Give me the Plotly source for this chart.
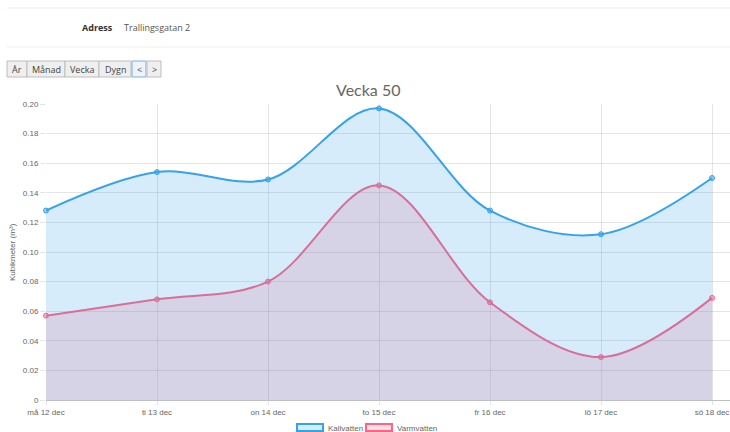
import plotly.graph_objects as go

# ---- data ----
categories = ["må 12 dec", "ti 13 dec", "on 14 dec", "to 15 dec", "fr 16 dec", "lö 17 dec", "sö 18 dec"]
kallvatten = [0.128, 0.154, 0.149, 0.197, 0.128, 0.112, 0.150]
varmvatten = [0.057, 0.068, 0.080, 0.145, 0.066, 0.029, 0.069]
ytick_vals = [0, 0.02, 0.04, 0.06, 0.08, 0.10, 0.12, 0.14, 0.16, 0.18, 0.20]
ytick_text = ["0", "0.02", "0.04", "0.06", "0.08", "0.10", "0.12", "0.14", "0.16", "0.18", "0.20"]
buttons = ["År", "Månad", "Vecka", "Dygn", "<", ">"]
series_names = ["Kallvatten", "Varmvatten"]

# ---- layout geometry (pixels) ----
W, H = 730, 432
L, R, T, B = 46, 0, 104, 32
PW = W - L - R
PH = H - T - B

def px(x):
    return (x - L) / PW

def py(y):
    return (H - B - y) / PH

BLUE = "#36a2eb"
BLUE_F = "rgba(54,162,235,0.2)"
PINK = "rgb(255,99,132)"
PINK_F = "rgba(255,99,132,0.2)"
GRID = "rgba(0,0,0,0.1)"
FONT = "Liberation Sans, Arial, sans-serif"

fig = go.Figure()
# Varmvatten drawn first (underneath), Kallvatten on top
fig.add_trace(go.Scatter(
    x=categories, y=varmvatten, name=series_names[1], mode="lines+markers",
    line=dict(color=PINK, width=2, shape="spline", smoothing=1.0),
    marker=dict(size=5, color="rgba(255,99,132,0.5)", line=dict(color=PINK, width=1)),
    fill="tozeroy", fillcolor=PINK_F, cliponaxis=False, showlegend=False,
))
fig.add_trace(go.Scatter(
    x=categories, y=kallvatten, name=series_names[0], mode="lines+markers",
    line=dict(color=BLUE, width=2, shape="spline", smoothing=1.0),
    marker=dict(size=5, color="rgba(54,162,235,0.5)", line=dict(color=BLUE, width=1)),
    fill="tozeroy", fillcolor=BLUE_F, cliponaxis=False, showlegend=False,
))

shapes = []
annotations = []

# header lines
for yy in (8, 47):
    shapes.append(dict(type="line", xref="paper", yref="paper", x0=px(7), x1=px(730),
                       y0=py(yy), y1=py(yy), line=dict(color="#eeeeee", width=1)))

annotations.append(dict(text="<b>Adress</b>", xref="paper", yref="paper", x=px(80), y=py(28),
                        xanchor="left", yanchor="middle", showarrow=False,
                        font=dict(family="Open Sans", size=9, color="#333")))
annotations.append(dict(text="Trallingsgatan 2", xref="paper", yref="paper", x=px(122), y=py(28),
                        xanchor="left", yanchor="middle", showarrow=False,
                        font=dict(family="Open Sans", size=9, color="#555")))

# buttons
btn_x = [(7, 27), (27, 65), (65, 99), (99, 131), (132, 146), (147, 161)]
for label, (x0, x1) in zip(buttons, btn_x):
    active = label == "<"
    shapes.append(dict(type="rect", xref="paper", yref="paper", x0=px(x0), x1=px(x1),
                       y0=py(77), y1=py(61),
                       fillcolor="#eef3f9" if active else "#efefef",
                       line=dict(color="#7aaee0" if active else "#bdbdbd", width=1)))
    annotations.append(dict(text=label, xref="paper", yref="paper", x=px((x0 + x1) / 2), y=py(69),
                            xanchor="center", yanchor="middle", showarrow=False,
                            font=dict(family="Open Sans", size=9, color="#444")))

# title
annotations.append(dict(text="Vecka 50", xref="paper", yref="paper", x=px(368), y=py(90),
                        xanchor="center", yanchor="middle", showarrow=False,
                        font=dict(family="Lato", size=16, color="#666")))

# y axis title
annotations.append(dict(text="Kubikmeter (m³)", xref="paper", yref="paper", x=px(12), y=py(252),
                        xanchor="center", yanchor="middle", showarrow=False, textangle=-90,
                        font=dict(family=FONT, size=8, color="#666")))

# legend
leg = [(series_names[0], BLUE, BLUE_F, 297, 323, 326), (series_names[1], PINK, PINK_F, 366, 392, 395)]
for name, lc, fc, x0, x1, tx in leg:
    shapes.append(dict(type="rect", xref="paper", yref="paper", x0=px(x0), x1=px(x1),
                       y0=py(431), y1=py(424), fillcolor=fc, line=dict(color=lc, width=2)))
    annotations.append(dict(text=name, xref="paper", yref="paper", x=px(tx), y=py(428),
                            xanchor="left", yanchor="middle", showarrow=False,
                            font=dict(family=FONT, size=8, color="#666")))

fig.update_layout(
    width=W, height=H, margin=dict(l=L, r=R, t=T, b=B),
    paper_bgcolor="white", plot_bgcolor="white",
    shapes=shapes, annotations=annotations, showlegend=False,
    font=dict(family=FONT, size=8, color="#666"),
    xaxis=dict(range=[0, 6.162], showgrid=True, gridcolor=GRID, gridwidth=1,
               showline=True, linecolor="rgba(0,0,0,0.25)", linewidth=1,
               ticks="outside", ticklen=4, tickcolor=GRID,
               tickfont=dict(family=FONT, size=8, color="#666"), zeroline=False,
               fixedrange=True),
    yaxis=dict(range=[0, 0.2], tickvals=ytick_vals, ticktext=ytick_text,
               showgrid=True, gridcolor=GRID, gridwidth=1, zeroline=False,
               showline=False, ticks="outside", ticklen=5, tickcolor=GRID,
               tickfont=dict(family=FONT, size=8, color="#666"), fixedrange=True),
)

fig.write_html(
    "out.html",
    config={"displayModeBar": False},
    post_script="document.body.style.margin='0px';document.body.style.overflow='hidden';",
)
